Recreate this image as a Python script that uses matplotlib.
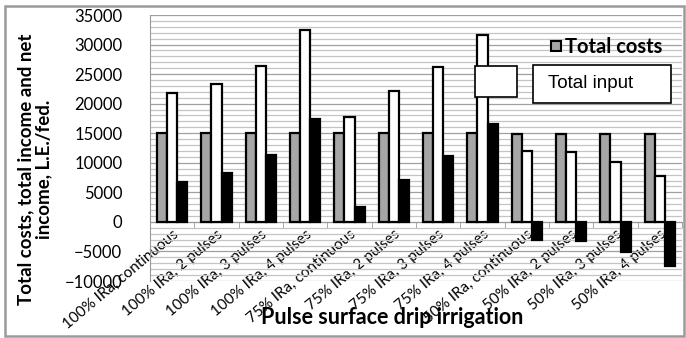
import numpy as np
import matplotlib
matplotlib.use('Agg')
import matplotlib.pyplot as plt
from matplotlib.patches import Rectangle
from matplotlib.ticker import MultipleLocator

# data
treatments = ['100% IRa, continuous', '100% IRa, 2 pulses', '100% IRa, 3 pulses', '100% IRa, 4 pulses',
              '75% IRa, continuous', '75% IRa, 2 pulses', '75% IRa, 3 pulses', '75% IRa, 4 pulses',
              '50% IRa, continuous', '50% IRa, 2 pulses', '50% IRa, 3 pulses', '50% IRa, 4 pulses']
total_costs = [15000, 15000, 15000, 15000, 15000, 15000, 15000, 15000, 14900, 14900, 14900, 14900]
total_income = [21800, 23400, 26400, 32500, 17700, 22200, 26200, 31700, 12000, 11800, 10100, 7800]
net_income = [6700, 8300, 11300, 17400, 2600, 7100, 11100, 16600, -3000, -3300, -5100, -7400]

plt.rcParams['font.family'] = ['Lato', 'DejaVu Sans']

W, H = 686, 338
fig = plt.figure(figsize=(W / 100, H / 100), dpi=100)
ax = fig.add_axes([150 / W, 1 - 281 / H, 532 / W, 266 / H])

x = np.arange(len(treatments))
w = 0.23
ax.bar(x - w, total_costs, w, color='#a6a6a6', edgecolor='black', linewidth=1.6, zorder=3)
ax.bar(x, total_income, w, color='white', edgecolor='black', linewidth=1.6, zorder=3)
ax.bar(x + w, net_income, w, color='black', edgecolor='black', linewidth=1.6, zorder=3)

ax.set_xlim(-0.5, len(treatments) - 0.5)
ax.set_ylim(-10000, 35000)
ax.yaxis.set_major_locator(MultipleLocator(5000))
ax.yaxis.set_minor_locator(MultipleLocator(1000))
ax.grid(axis='y', which='major', color='#a0a0a0', linewidth=0.9, zorder=0)
ax.grid(axis='y', which='minor', color='#c4c4c4', linewidth=0.9, zorder=0)
ax.tick_params(axis='y', which='both', length=0, labelsize=12, pad=20)

for s in ['top', 'right']:
    ax.spines[s].set_visible(False)
ax.spines['left'].set_color('#999999')
ax.spines['bottom'].set_position(('data', 0))
ax.spines['bottom'].set_color('#999999')

ax.set_xticks(x)
ax.set_xticklabels(treatments, rotation=40, ha='right', va='top', rotation_mode='anchor', fontsize=11)
ax.set_xticks(np.arange(len(treatments) + 1) - 0.5, minor=True)
ax.tick_params(axis='x', which='major', length=0, pad=4)
ax.tick_params(axis='x', which='minor', length=4, color='#999999')

fig.text(35 / W, 0.5, 'Total costs, total income and net\nincome, L.E./fed.', rotation=90,
         ha='center', va='center', fontsize=13.5, fontweight='bold', linespacing=1.1)
fig.text(392 / W, 1 - 318 / H, 'Pulse surface drip irrigation', ha='center', va='center',
         fontsize=15.5, fontweight='bold')

# legend-like boxes as in the original
def px_rect(x0, y0, x1, y1, **kw):
    r = Rectangle((x0 / W, 1 - y1 / H), (x1 - x0) / W, (y1 - y0) / H, transform=fig.transFigure, **kw)
    fig.patches.append(r)

px_rect(551, 41, 561, 51, facecolor='#a6a6a6', edgecolor='black', linewidth=1.5)
fig.text(565 / W, 1 - 47 / H, 'Total costs', ha='left', va='center', fontsize=14.5, fontweight='bold')
px_rect(475, 66, 517, 97, facecolor='white', edgecolor='black', linewidth=1.2, zorder=5)
px_rect(533, 65, 671, 103, facecolor='white', edgecolor='black', linewidth=1.2, zorder=5)
fig.text(548 / W, 1 - 84 / H, 'Total input', ha='left', va='center', fontsize=13.5,
         family=['Liberation Sans', 'DejaVu Sans'], zorder=6)

# outer frame
px_rect(5, 6, 684, 336, facecolor='none', edgecolor='#9a9a9a', linewidth=1.8)

fig.savefig('out.png', dpi=100)
